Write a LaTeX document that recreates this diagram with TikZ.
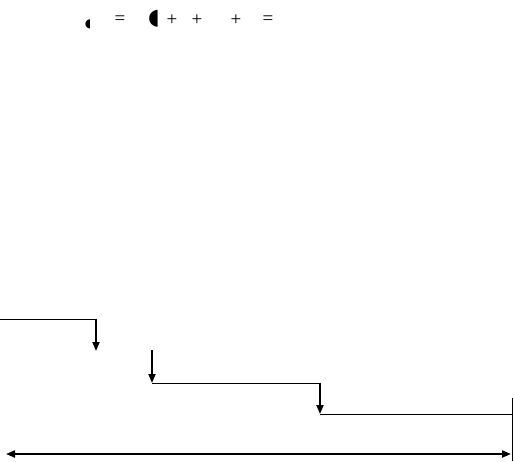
\documentclass[tikz,border=0pt]{standalone}
\usepackage{fontspec}
\setmainfont{Liberation Serif}
\newfontfamily\symfont{DejaVu Sans}
\usepackage{tikz}
\usetikzlibrary{arrows.meta,positioning}
\tikzset{
  sym/.style={inner sep=0pt,font=\fontsize{19}{19}\selectfont},
  moon/.style={inner sep=0pt,font=\symfont\fontsize{#1}{#1}\selectfont},
  moon/.default=12,
  stepline/.style={line width=1pt,draw=black},
  droparrow/.style={-{Triangle[length=9pt,width=7pt]},line width=1.8pt,draw=black},
  spanarrow/.style={{Triangle[length=9pt,width=7pt]}-{Triangle[length=9pt,width=7pt]},line width=2pt,draw=black}
}

\begin{document}
\begin{tikzpicture}[x=1pt,y=-1pt]
\useasboundingbox (0,0) rectangle (514,461);
% top formula row
\node[moon=12] (m1) at (88,24) {◖};
\node[sym] (eq1) at (120,20) {=};
\node[moon=22] (m2) at (154,19) {◖};
\node[sym] (p1) at (172,20) {+};
\node[sym] (p2) at (197,20) {+};
\node[sym] (p3) at (236,20) {+};
\node[sym] (eq2) at (268,20) {=};
% steps
\coordinate (s0) at (0,319);
\coordinate (s1) at (96,319);
\coordinate (s1e) at (96,351);
\coordinate (s2) at (152,350);
\coordinate (s2e) at (152,383);
\coordinate (s3) at (320,383);
\coordinate (s3e) at (320,414);
\coordinate (s4) at (512,414);
\coordinate (t0) at (512,398);
\coordinate (t1) at (512,461);
\coordinate (a0) at (6,454);
\coordinate (a1) at (511,454);
\draw[stepline] (s0) -- (s1);
\draw[droparrow] (s1) -- (s1e);
\draw[droparrow] (s2) -- (s2e);
\draw[stepline] (s2e) -- (s3);
\draw[droparrow] (s3) -- (s3e);
\draw[stepline] (s3e) -- (s4);
\draw[stepline] (t0) -- (t1);
\draw[spanarrow] (a0) -- (a1);
\end{tikzpicture}
\end{document}
